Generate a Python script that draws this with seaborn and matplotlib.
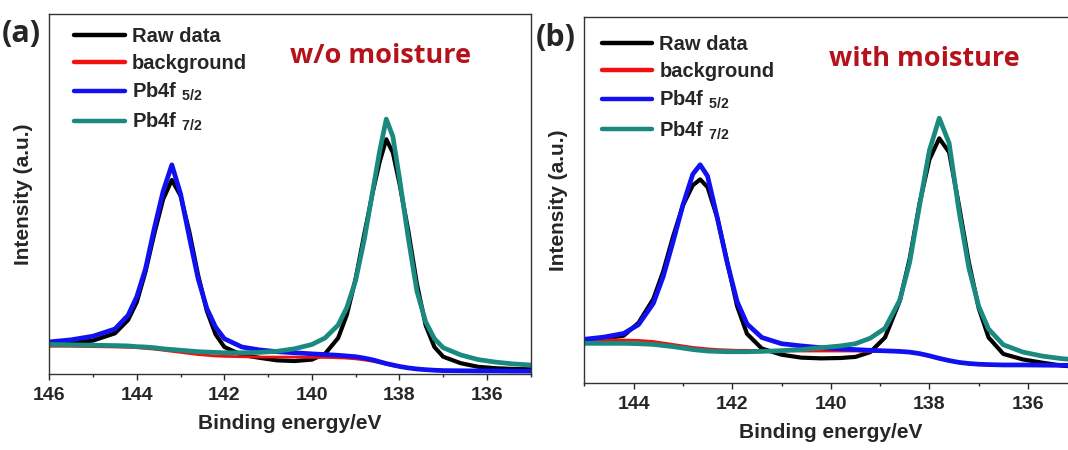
import numpy as np
import pandas as pd
import matplotlib
matplotlib.use("Agg")
import matplotlib.pyplot as plt
from matplotlib.ticker import MultipleLocator
import seaborn as sns

# XPS Pb4f spectra (intensity in % of axis height)
energy_a = [146.0, 145.5, 145.0, 144.5, 144.2, 144.0, 143.8, 143.6, 143.4, 143.2, 143.0,
            142.8, 142.6, 142.4, 142.2, 142.0, 141.6, 141.2, 140.8, 140.4, 140.0, 139.7,
            139.4, 139.2, 139.0, 138.8, 138.6, 138.45, 138.3, 138.15, 138.0, 137.8, 137.6,
            137.4, 137.2, 137.0, 136.6, 136.2, 135.8, 135.4, 135.0]
raw_a = [8.4, 8.6, 9.3, 11.3, 15.0, 20.0, 28.5, 39.0, 48.5, 53.9, 49.5,
         39.5, 27.5, 17.5, 11.0, 7.5, 5.3, 4.5, 3.8, 3.6, 4.0, 5.6,
         10.0, 16.5, 26.5, 39.0, 51.0, 59.0, 65.2, 61.5, 53.0, 40.0, 25.0,
         13.5, 7.5, 4.8, 3.0, 2.0, 1.6, 1.4, 1.3]
bg_a = [7.7, 7.7, 7.6, 7.5, 7.4, 7.3, 7.1, 6.9, 6.6, 6.3, 6.0,
        5.7, 5.4, 5.2, 5.0, 4.9, 4.8, 4.7, 4.7, 4.7, 4.6, 4.6,
        4.5, 4.4, 4.2, 3.9, 3.5, 3.1, 2.7, 2.3, 2.0, 1.6, 1.3,
        1.1, 0.95, 0.85, 0.8, 0.75, 0.75, 0.7, 0.7]
p52_a = [8.9, 9.5, 10.5, 12.5, 16.3, 21.5, 29.3, 40.5, 50.7, 58.1, 50.0,
         38.0, 26.5, 18.2, 13.0, 9.8, 7.5, 6.7, 6.2, 5.9, 5.6, 5.4,
         5.2, 5.0, 4.8, 4.4, 3.9, 3.4, 2.9, 2.5, 2.1, 1.7, 1.4,
         1.2, 1.05, 0.95, 0.9, 0.85, 0.85, 0.8, 0.8]
p72_a = [8.2, 8.1, 8.0, 7.9, 7.8, 7.6, 7.5, 7.3, 7.0, 6.8, 6.6,
         6.4, 6.2, 6.1, 6.0, 5.9, 5.9, 6.0, 6.3, 7.0, 8.2, 10.0,
         13.6, 18.5, 26.0, 37.5, 51.5, 62.0, 70.8, 66.0, 54.5, 38.0, 23.0,
         14.5, 9.8, 7.3, 5.3, 4.0, 3.3, 2.8, 2.5]

energy_b = [145.0, 144.6, 144.2, 143.9, 143.6, 143.4, 143.2, 143.0, 142.8, 142.65,
            142.5, 142.3, 142.1, 141.9, 141.7, 141.4, 141.0, 140.6, 140.2, 139.8,
            139.5, 139.2, 138.9, 138.6, 138.4, 138.2, 138.0, 137.8, 137.6, 137.4,
            137.2, 137.0, 136.8, 136.5, 136.1, 135.7, 135.3, 135.0]
raw_b = [11.5, 12.2, 13.0, 16.5, 23.0, 30.5, 40.0, 48.5, 54.0, 55.6,
         53.5, 45.0, 33.0, 21.0, 13.5, 9.5, 7.8, 7.0, 6.8, 6.9,
         7.2, 8.5, 12.5, 22.5, 34.0, 49.0, 61.0, 66.8, 63.0, 48.5,
         33.0, 20.5, 12.5, 8.0, 6.5, 5.6, 4.8, 4.5]
bg_b = [11.8, 11.9, 11.8, 11.7, 11.4, 11.0, 10.6, 10.2, 9.8, 9.6,
        9.4, 9.2, 9.1, 9.0, 9.0, 8.9, 8.9, 8.8, 8.8, 8.8,
        8.8, 8.7, 8.7, 8.6, 8.4, 8.0, 7.4, 6.7, 6.1, 5.6,
        5.3, 5.1, 5.0, 4.95, 4.9, 4.9, 4.85, 4.85]
p52_b = [12.0, 12.6, 13.6, 16.0, 21.8, 29.1, 38.6, 48.6, 57.0, 59.6,
         56.5, 45.0, 32.8, 22.3, 16.2, 12.5, 10.8, 10.2, 9.7, 9.4,
         9.2, 9.0, 8.85, 8.7, 8.5, 8.1, 7.5, 6.8, 6.2, 5.7,
         5.4, 5.2, 5.1, 5.0, 5.0, 4.95, 4.9, 4.9]
p72_b = [10.9, 10.9, 10.9, 10.8, 10.6, 10.3, 10.0, 9.6, 9.2, 9.0,
         8.8, 8.7, 8.6, 8.6, 8.6, 8.7, 8.9, 9.2, 9.7, 10.2,
         10.8, 12.3, 15.0, 22.7, 33.0, 48.5, 63.5, 72.3, 65.5, 47.0,
         31.5, 21.0, 14.8, 10.5, 8.5, 7.4, 6.7, 6.4]

curve_labels = ["Raw data", "background", r"Pb4f $_{5/2}$", r"Pb4f $_{7/2}$"]
curve_colors = ["#000000", "#F01010", "#1010F0", "#1A8A80"]
curve_widths = [3.0, 2.0, 3.4, 3.4]
panel_tags = ["(a)", "(b)"]
panel_notes = ["w/o moisture", "with moisture"]
xlims = [(146, 135), (145, 135)]

sns.set_style("white")
plt.rcParams["font.family"] = ["Liberation Sans", "DejaVu Sans"]
plt.rcParams["font.weight"] = "bold"
plt.rcParams["mathtext.fontset"] = "custom"
plt.rcParams["mathtext.rm"] = "Liberation Sans:bold"
plt.rcParams["mathtext.default"] = "rm"

fig = plt.figure(figsize=(10.68, 4.5), dpi=100)
ax_a = fig.add_axes([49.3 / 1068, 76 / 450, 481.4 / 1068, 360 / 450])
ax_b = fig.add_axes([584.3 / 1068, 66.7 / 450, 493 / 1068, 366.7 / 450])

panels = [
    (ax_a, energy_a, [raw_a, bg_a, p52_a, p72_a]),
    (ax_b, energy_b, [raw_b, bg_b, p52_b, p72_b]),
]

for i, (ax, energy, series) in enumerate(panels):
    for lab, vals, col, lw in zip(curve_labels, series, curve_colors, curve_widths):
        df = pd.DataFrame({"energy": energy, "intensity": vals})
        sns.lineplot(data=df, x="energy", y="intensity", color=col, lw=lw,
                     label=lab, ax=ax, sort=False, estimator=None)
    for ln in ax.get_lines():
        ln.set_solid_joinstyle("round")
    ax.set_xlim(*xlims[i])
    ax.set_ylim(0, 100)
    ax.xaxis.set_major_locator(MultipleLocator(2))
    ax.xaxis.set_minor_locator(MultipleLocator(1))
    ax.tick_params(axis="x", which="major", direction="out", length=4.5, width=1.0,
                   labelsize=14, pad=5, bottom=True)
    ax.tick_params(axis="x", which="minor", direction="out", length=2.5, width=1.0, bottom=True)
    ax.tick_params(axis="y", left=False, labelleft=False)
    for s in ax.spines.values():
        s.set_linewidth(1.0)
        s.set_color("#333333")
    ax.set_xlabel("Binding energy/eV", fontsize=15, fontweight="bold", labelpad=7)
    ax.set_ylabel("Intensity (a.u.)", fontsize=15, fontweight="bold", labelpad=12)

    leg = ax.legend(loc="upper left", bbox_to_anchor=(0.052 if i == 0 else 0.036, 0.965 if i == 0 else 0.95),
                    frameon=False, fontsize=14.5, handlelength=2.5, handletextpad=0.35,
                    labelspacing=0.4, borderpad=0, borderaxespad=0)
    for t in leg.get_texts():
        t.set_fontweight("bold")
    for h in leg.get_lines():
        h.set_linewidth(3.2)

# panel tags and conditions
fig.text(2 / 1068, 1 - 34 / 450, panel_tags[0], fontsize=22, fontweight="bold",
         family=["Open Sans", "DejaVu Sans"], va="center", ha="left")
fig.text(536 / 1068, 1 - 38 / 450, panel_tags[1], fontsize=22, fontweight="bold",
         family=["Open Sans", "DejaVu Sans"], va="center", ha="left")
fig.text(381 / 1068, 1 - 56 / 450, panel_notes[0], fontsize=19.5, fontweight="bold",
         family=["Open Sans", "DejaVu Sans"], color="#B5121B", va="center", ha="center")
fig.text(924 / 1068, 1 - 59 / 450, panel_notes[1], fontsize=19.5, fontweight="bold",
         family=["Open Sans", "DejaVu Sans"], color="#B5121B", va="center", ha="center")

fig.savefig("out.png", dpi=100)
